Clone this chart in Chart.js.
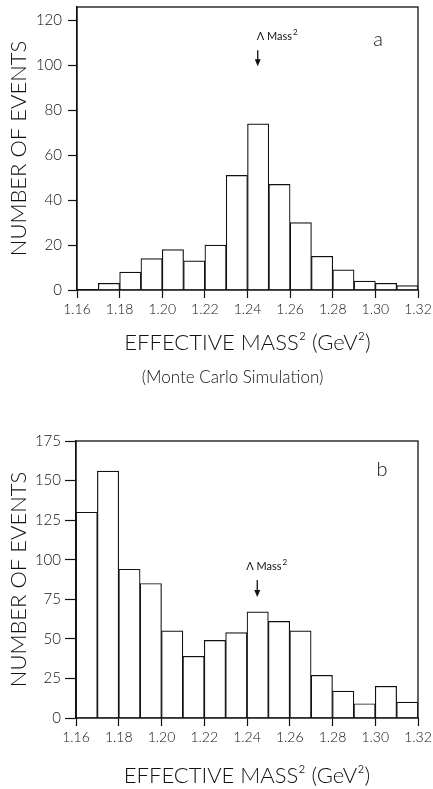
<!DOCTYPE html>
<html>
<head>
<meta charset="utf-8">
<script src="https://cdn.jsdelivr.net/npm/chart.js@4.4.1/dist/chart.umd.min.js"></script>
<style>
    html, body { margin: 0; padding: 0; background: #fff; }
    #wrap { position: relative; width: 433px; height: 789px; overflow: hidden; }
    #chartA { position: absolute; left: 0; top: 0; }
    #chartB { position: absolute; left: 0; top: 395px; }
    #note {
        position: absolute; left: 0; top: 366px; width: 465px;
        text-align: center; font: 300 17px Lato, sans-serif; color: #111;
    }
</style>
</head>
<body>
<div id="wrap">
    <canvas id="chartA" width="433" height="395"></canvas>
    <div id="note">(Monte Carlo Simulation)</div>
    <canvas id="chartB" width="433" height="394"></canvas>
</div>
<script>
    // ---------------------------------------------------------
    // Data (bin lower edges in GeV^2, counts per 0.01 bin)
    // ---------------------------------------------------------
    const binsA = [1.17, 1.18, 1.19, 1.20, 1.21, 1.22, 1.23, 1.24, 1.25, 1.26, 1.27, 1.28, 1.29, 1.30, 1.31];
    const countsA = [3, 8, 14, 18, 13, 20, 51, 74, 47, 30, 15, 9, 4, 3, 2];

    const binsB = [1.16, 1.17, 1.18, 1.19, 1.20, 1.21, 1.22, 1.23, 1.24, 1.25, 1.26, 1.27, 1.28, 1.29, 1.30, 1.31];
    const countsB = [130, 156, 94, 85, 55, 39, 49, 54, 67, 61, 55, 27, 17, 9, 20, 10];

    const binWidth = 0.01;
    const xTickLabels = ["1.16", "1.18", "1.20", "1.22", "1.24", "1.26", "1.28", "1.30", "1.32"];
    const yTicksA = [0, 20, 40, 60, 80, 100, 120];
    const yTicksB = [0, 25, 50, 75, 100, 125, 150, 175];
    const lambdaMass2 = 1.2448;

    const FONT = "Lato, 'DejaVu Sans', sans-serif";
    const INK = "#111";

    // ---------------------------------------------------------
    // Plugins: frame box, arrow marker, panel letter
    // ---------------------------------------------------------
    const framePlugin = {
        id: "frame",
        afterDraw(chart) {
            const a = chart.chartArea;
            const ctx = chart.ctx;
            ctx.save();
            ctx.strokeStyle = INK;
            ctx.lineWidth = 1.3;
            ctx.strokeRect(a.left, a.top, a.right - a.left, a.bottom - a.top);
            ctx.restore();
        },
    };

    const markerPlugin = {
        id: "marker",
        afterDatasetsDraw(chart, args, opts) {
            const ctx = chart.ctx;
            const x = chart.scales.x.getPixelForValue(lambdaMass2);
            const y = chart.scales.y;
            const y1 = y.getPixelForValue(opts.from);
            const y2 = y.getPixelForValue(opts.to);
            const yl = y.getPixelForValue(opts.label);

            ctx.save();
            ctx.strokeStyle = INK;
            ctx.fillStyle = INK;
            ctx.lineWidth = 1.3;
            ctx.beginPath();
            ctx.moveTo(x, y1);
            ctx.lineTo(x, y2 - 5);
            ctx.stroke();
            ctx.beginPath();
            ctx.moveTo(x - 3, y2 - 7);
            ctx.lineTo(x + 3, y2 - 7);
            ctx.lineTo(x, y2);
            ctx.closePath();
            ctx.fill();

            ctx.textBaseline = "middle";
            ctx.textAlign = "left";
            ctx.font = "11px " + FONT;
            ctx.fillText("\u039B Mass", x + opts.dx, yl);
            const w = ctx.measureText("\u039B Mass").width;
            ctx.font = "8px " + FONT;
            ctx.fillText("2", x + opts.dx + w + 1, yl - 4);

            const a = chart.chartArea;
            ctx.font = "300 20px " + FONT;
            ctx.textAlign = "center";
            ctx.fillText(opts.letter, a.right - opts.letterX, a.top + opts.letterY);
            ctx.restore();
        },
    };

    // ---------------------------------------------------------
    // Chart builder
    // ---------------------------------------------------------
    function histogram(canvasId, bins, counts, yMax, yTicks, layout, marker) {
        const points = bins.map((b, i) => ({ x: b + binWidth / 2, y: counts[i] }));

        return new Chart(document.getElementById(canvasId), {
            type: "bar",
            data: {
                datasets: [
                    {
                        data: points,
                        backgroundColor: "#fff",
                        borderColor: INK,
                        borderWidth: 1.2,
                        barPercentage: 1,
                        categoryPercentage: 1,
                    },
                ],
            },
            options: {
                responsive: false,
                animation: false,
                events: [],
                layout: { padding: { top: layout.top, right: 15, left: 0, bottom: 0 } },
                plugins: {
                    legend: { display: false },
                    tooltip: { enabled: false },
                    marker: marker,
                },
                scales: {
                    x: {
                        type: "linear",
                        offset: false,
                        min: 1.16,
                        max: 1.32,
                        afterBuildTicks: (s) => {
                            s.ticks = xTickLabels.map((t) => ({ value: parseFloat(t) }));
                        },
                        afterFit: (s) => {
                            s.height = layout.xHeight;
                            s.paddingLeft = 0;
                            s.paddingRight = 0;
                        },
                        ticks: {
                            autoSkip: false,
                            maxRotation: 0,
                            color: INK,
                            padding: 3,
                            font: { family: FONT, size: 14, weight: 300 },
                            callback: (v) => v.toFixed(2),
                        },
                        grid: {
                            offset: false,
                            drawOnChartArea: false,
                            tickLength: 8,
                            tickColor: INK,
                            tickWidth: 1.2,
                        },
                        border: { color: INK, width: 1.3 },
                        title: {
                            display: true,
                            text: "EFFECTIVE MASS\u00B2 (GeV\u00B2)",
                            color: INK,
                            font: { family: FONT, size: 22, weight: 300 },
                            padding: { top: 0, bottom: layout.titlePad },
                        },
                    },
                    y: {
                        min: 0,
                        max: yMax,
                        afterBuildTicks: (s) => {
                            s.ticks = yTicks.map((v) => ({ value: v }));
                        },
                        afterFit: (s) => {
                            s.width = layout.yWidth;
                            s.paddingTop = 0;
                            s.paddingBottom = 0;
                        },
                        ticks: {
                            color: INK,
                            padding: layout.yPad,
                            font: { family: FONT, size: 15, weight: 300 },
                        },
                        grid: {
                            drawOnChartArea: false,
                            tickLength: layout.yTick,
                            tickColor: INK,
                            tickWidth: 1.2,
                        },
                        border: { color: INK, width: 1.3 },
                        title: {
                            display: true,
                            text: "NUMBER OF EVENTS",
                            color: INK,
                            font: { family: FONT, size: 22, weight: 300 },
                            padding: { top: 6, bottom: 0 },
                        },
                    },
                },
            },
            plugins: [framePlugin, markerPlugin],
        });
    }

    histogram("chartA", binsA, countsA, 126, yTicksA,
        { top: 7, xHeight: 105, titlePad: 39, yWidth: 77, yPad: 6, yTick: 9 },
        { from: 106.7, to: 99.6, label: 113, dx: -1, letter: "a", letterX: 40, letterY: 33 });

    histogram("chartB", binsB, countsB, 175, yTicksB,
        { top: 46, xHeight: 71, titlePad: 0, yWidth: 76, yPad: 4, yTick: 11 },
        { from: 87.2, to: 76.4, label: 96, dx: -11, letter: "b", letterX: 36, letterY: 29 });
</script>
</body>
</html>
